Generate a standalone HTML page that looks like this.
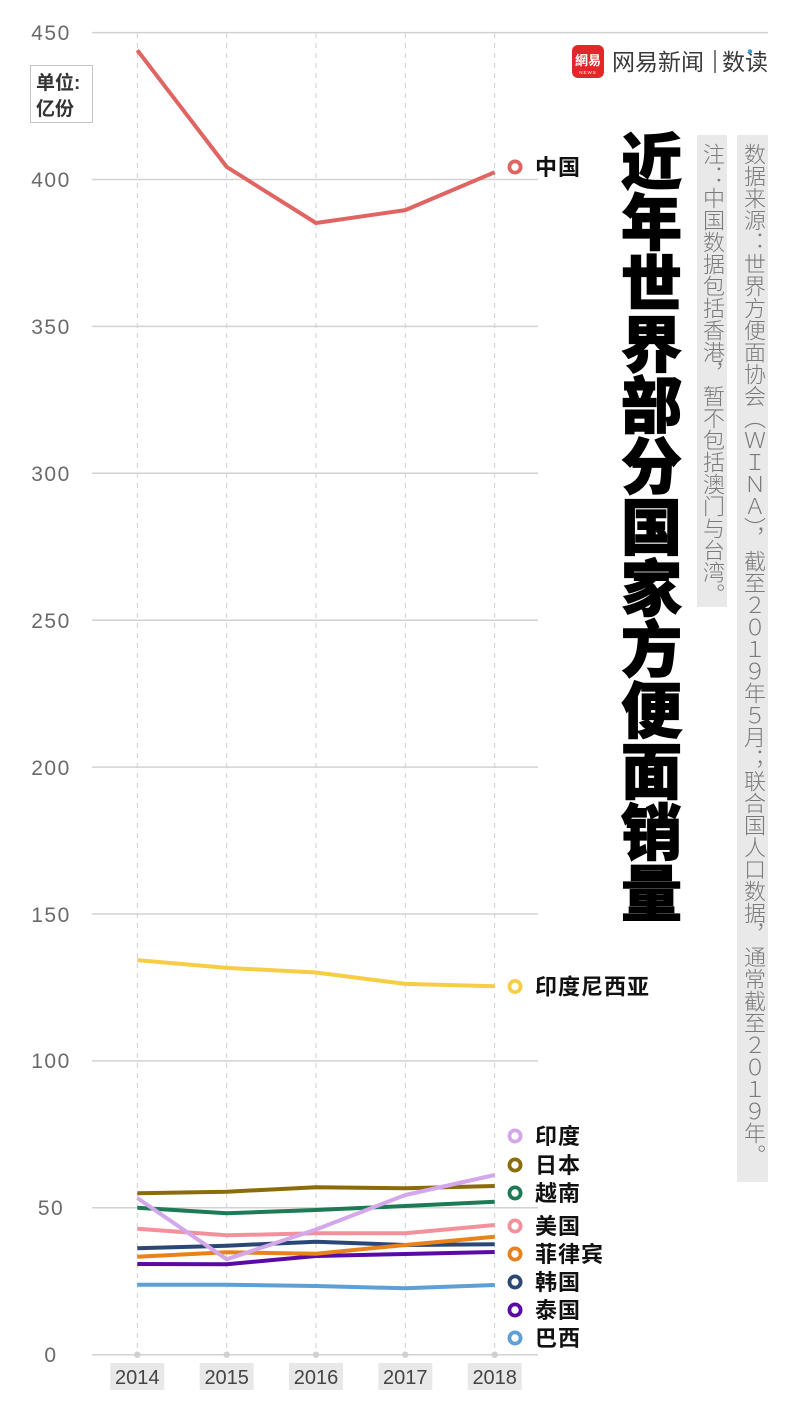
<!DOCTYPE html>
<html><head><meta charset="utf-8">
<style>
html,body{margin:0;padding:0;background:#fff;}
body{width:800px;height:1416px;position:relative;overflow:hidden;font-family:"Liberation Sans","Noto Sans CJK SC",sans-serif;}
svg{position:absolute;left:0;top:0;}
.vt{position:absolute;writing-mode:vertical-rl;font-family:"Liberation Sans","Noto Sans CJK SC",sans-serif;}
.title{left:615px;top:130px;width:61px;font-size:61px;line-height:61px;font-weight:900;color:#000;-webkit-text-stroke:1.2px #000;}
.box{position:absolute;background:#e9e9e9;}
.note{font-size:22px;line-height:30px;color:#7a7a7a;font-weight:300;}
</style></head>
<body>
<svg width="800" height="1416" viewBox="0 0 800 1416" xmlns="http://www.w3.org/2000/svg" font-family="Liberation Sans, Noto Sans CJK SC, sans-serif">
  <g stroke="#cfcfcf" stroke-width="1" stroke-dasharray="5,5">
    <line x1="137.3" y1="33" x2="137.3" y2="1355"/>
    <line x1="226.7" y1="33" x2="226.7" y2="1355"/>
    <line x1="316" y1="33" x2="316" y2="1355"/>
    <line x1="405.3" y1="33" x2="405.3" y2="1355"/>
    <line x1="494.7" y1="33" x2="494.7" y2="1355"/>
  </g>
  <g stroke="#d2d2d2" stroke-width="1.5">
    <line x1="92" y1="32.6" x2="768" y2="32.6"/>
    <line x1="92" y1="179.5" x2="538" y2="179.5"/>
    <line x1="92" y1="326.4" x2="538" y2="326.4"/>
    <line x1="92" y1="473.3" x2="538" y2="473.3"/>
    <line x1="92" y1="620.2" x2="538" y2="620.2"/>
    <line x1="92" y1="767.1" x2="538" y2="767.1"/>
    <line x1="92" y1="914" x2="538" y2="914"/>
    <line x1="92" y1="1060.9" x2="538" y2="1060.9"/>
    <line x1="92" y1="1207.8" x2="538" y2="1207.8"/>
    <line x1="92" y1="1354.7" x2="538" y2="1354.7"/>
  </g>
  <g fill="#d0d0d0">
    <circle cx="137.3" cy="1354.7" r="3.2"/>
    <circle cx="226.7" cy="1354.7" r="3.2"/>
    <circle cx="316" cy="1354.7" r="3.2"/>
    <circle cx="405.3" cy="1354.7" r="3.2"/>
    <circle cx="494.7" cy="1354.7" r="3.2"/>
  </g>
  <g fill="#6a6a6a" font-size="21" text-anchor="middle" letter-spacing="1.5">
    <text x="51" y="40">450</text>
    <text x="51" y="187">400</text>
    <text x="51" y="334">350</text>
    <text x="51" y="481">300</text>
    <text x="51" y="628">250</text>
    <text x="51" y="775">200</text>
    <text x="51" y="922">150</text>
    <text x="51" y="1068">100</text>
    <text x="51" y="1215">50</text>
    <text x="51" y="1362">0</text>
  </g>
  <rect x="30.5" y="65.5" width="62" height="57" fill="#fff" stroke="#c4c4c4" stroke-width="1"/>
  <g fill="#333" font-size="19" font-weight="bold">
    <text x="36" y="89">单位:</text>
    <text x="36" y="115">亿份</text>
  </g>
  <g>
    <rect x="110.3" y="1363" width="54" height="27" fill="#e8e8e8"/>
    <rect x="199.7" y="1363" width="54" height="27" fill="#e8e8e8"/>
    <rect x="289" y="1363" width="54" height="27" fill="#e8e8e8"/>
    <rect x="378.3" y="1363" width="54" height="27" fill="#e8e8e8"/>
    <rect x="467.7" y="1363" width="54" height="27" fill="#e8e8e8"/>
  </g>
  <g fill="#444" font-size="20" text-anchor="middle">
    <text x="137.3" y="1384">2014</text>
    <text x="226.7" y="1384">2015</text>
    <text x="316" y="1384">2016</text>
    <text x="405.3" y="1384">2017</text>
    <text x="494.7" y="1384">2018</text>
  </g>
  <g fill="none" stroke-width="4" stroke-linejoin="round" stroke-linecap="butt">
    <polyline stroke="#e06461" points="137.3,50.2 226.7,166.9 316,223 405.3,210.1 494.7,172.2"/>
    <polyline stroke="#f6cd45" points="137.3,960.1 226.7,967.9 316,972.5 405.3,983.9 494.7,986.3"/>
    <polyline stroke="#5e9fd6" points="137.3,1284.7 226.7,1284.7 316,1286 405.3,1288.3 494.7,1285"/>
    <polyline stroke="#2b4776" points="137.3,1248.3 226.7,1245.7 316,1241.7 405.3,1245 494.7,1244.3"/>
    <polyline stroke="#5a0aa5" points="137.3,1264 226.7,1264.3 316,1256 405.3,1254 494.7,1252"/>
    <polyline stroke="#e8821c" points="137.3,1256.7 226.7,1252.3 316,1253.8 405.3,1245 494.7,1236.7"/>
    <polyline stroke="#f2919c" points="137.3,1228.7 226.7,1235.3 316,1233.3 405.3,1233.3 494.7,1225"/>
    <polyline stroke="#1d7a55" points="137.3,1207.7 226.7,1213.3 316,1210 405.3,1206 494.7,1201.7"/>
    <polyline stroke="#8b6c0a" points="137.3,1193.3 226.7,1191.7 316,1187.3 405.3,1188.3 494.7,1186"/>
    <polyline stroke="#d4a6ea" points="137.3,1198 226.7,1259.3 316,1229.5 405.3,1195 494.7,1175"/>
  </g>
  <g fill="#fff" stroke-width="3.8">
    <circle cx="515" cy="167" r="5.6" stroke="#e06461"/>
    <circle cx="515" cy="986.5" r="5.6" stroke="#f6cd45"/>
    <circle cx="515" cy="1136" r="5.6" stroke="#d4a6ea"/>
    <circle cx="515" cy="1165" r="5.6" stroke="#8b6c0a"/>
    <circle cx="515" cy="1193" r="5.6" stroke="#1d7a55"/>
    <circle cx="515" cy="1226" r="5.6" stroke="#f2919c"/>
    <circle cx="515" cy="1254" r="5.6" stroke="#e8821c"/>
    <circle cx="515" cy="1282" r="5.6" stroke="#2b4776"/>
    <circle cx="515" cy="1310" r="5.6" stroke="#5a0aa5"/>
    <circle cx="515" cy="1338" r="5.6" stroke="#5e9fd6"/>
  </g>
  <g fill="#111" font-size="22" font-weight="bold" letter-spacing="1">
    <text x="535" y="175">中国</text>
    <text x="535" y="994.5">印度尼西亚</text>
    <text x="535" y="1144">印度</text>
    <text x="535" y="1173">日本</text>
    <text x="535" y="1201">越南</text>
    <text x="535" y="1234">美国</text>
    <text x="535" y="1262">菲律宾</text>
    <text x="535" y="1290">韩国</text>
    <text x="535" y="1318">泰国</text>
    <text x="535" y="1346">巴西</text>
  </g>
  <rect x="572" y="45" width="32" height="33" rx="6" fill="#e3262b"/>
  <text x="588" y="65" font-size="13" font-weight="bold" fill="#fff" text-anchor="middle">網易</text>
  <text x="588" y="74" font-size="4.5" fill="#fff" text-anchor="middle" letter-spacing="1">NEWS</text>
  <text x="612" y="70" font-size="23" fill="#3a3a3a">网易新闻</text>
  <line x1="715" y1="50" x2="715" y2="73" stroke="#555" stroke-width="1.5"/>
  <text x="722" y="70" font-size="23" fill="#3a3a3a">数读</text>
  <circle cx="750" cy="51.5" r="2.2" fill="#3d9bd6"/>
</svg>

<div class="vt title">近年世界部分国家方便面销量</div>

<div class="box" style="left:697px;top:135px;width:30px;height:472px;">
  <div class="vt note" style="left:0;top:8px;width:30px;">注：中国数据包括香港，暂不包括澳门与台湾。</div>
</div>
<div class="box" style="left:737px;top:135px;width:31px;height:1047px;">
  <div class="vt note" style="left:0;top:8px;width:31px;">数据来源：世界方便面协会（ＷＩＮＡ），截至２０１９年５月；联合国人口数据，通常截至２０１９年。</div>
</div>
</body></html>
